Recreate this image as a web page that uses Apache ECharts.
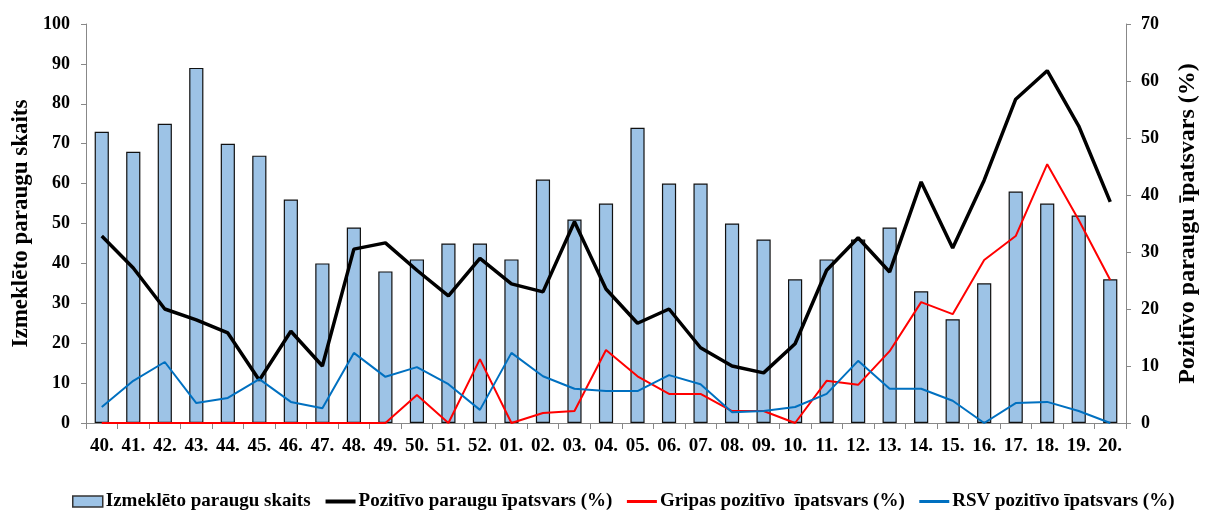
<!DOCTYPE html>
<html><head><meta charset="utf-8">
<script src="https://cdn.jsdelivr.net/npm/echarts@6/dist/echarts.min.js"></script>
<style>html,body{margin:0;padding:0;background:#fff}#c{width:1208px;height:512px}</style>
</head><body><div id="c"></div>
<script>
const weeks = ['40.','41.','42.','43.','44.','45.','46.','47.','48.','49.','50.','51.','52.','01.','02.','03.','04.','05.','06.','07.','08.','09.','10.','11.','12.','13.','14.','15.','16.','17.','18.','19.','20.'];
const samples = [73,68,75,89,70,67,56,40,49,38,41,45,45,41,61,51,55,74,60,60,50,46,36,41,46,49,33,26,35,58,55,52,36];
const positive = [32.8,27.2,20.0,18.1,15.8,7.5,16.1,10.0,30.5,31.6,26.8,22.3,28.9,24.4,23.0,35.3,23.5,17.5,20.0,13.2,10.0,8.8,13.9,26.8,32.5,26.5,42.3,30.7,42.6,56.8,61.8,52.1,38.8];
const flu = [0,0,0,0,0,0,0,0,0,0,4.9,0,11.2,0,1.75,2.1,12.8,8.2,5.1,5.1,2.1,2.1,0,7.4,6.7,12.6,21.2,19.1,28.6,32.8,45.4,35.6,25.1];
const rsv = [2.8,7.4,10.7,3.5,4.4,7.7,3.7,2.6,12.3,8.1,9.8,6.8,2.3,12.3,8.2,6.0,5.6,5.6,8.4,6.8,1.9,2.1,2.8,5.1,10.9,6.0,6.0,3.9,0,3.5,3.7,2.1,0];
const leftTicks = [0,100,10];
const rightTicks = [0,70,10];

const font = '"Liberation Serif","Times New Roman",serif';
const chart = echarts.init(document.getElementById('c'));
const hideSym = {opacity:0};
chart.setOption({
  animation:false,
  textStyle:{fontFamily:font},
  grid:{left:86,right:79,top:24,bottom:89,containLabel:false},
  legend:{
    top:487,left:67,itemGap:13,itemWidth:30,itemHeight:11,padding:[5,5,5,5],
    textStyle:{fontFamily:font,fontWeight:'bold',fontSize:19,color:'#000',padding:[0,0,0,-2]},
    data:[
      {name:'Izmeklēto paraugu skaits',icon:'rect',itemStyle:{borderColor:'#333',borderWidth:1.5}},
      {name:'Pozitīvo paraugu īpatsvars (%)',itemStyle:hideSym,lineStyle:{width:4}},
      {name:'Gripas pozitīvo  īpatsvars (%)',itemStyle:hideSym,lineStyle:{width:3}},
      {name:'RSV pozitīvo īpatsvars (%)',itemStyle:hideSym,lineStyle:{width:3}}
    ]
  },
  xAxis:{
    type:'category',data:weeks,boundaryGap:true,
    axisLine:{lineStyle:{color:'#888'}},
    axisTick:{show:true,length:6,lineStyle:{color:'#888'},alignWithLabel:false},
    axisLabel:{color:'#000',fontWeight:'bold',fontSize:19,fontFamily:font,margin:14,interval:0}
  },
  yAxis:[
    {type:'value',min:leftTicks[0],max:leftTicks[1],interval:leftTicks[2],
     name:'Izmeklēto paraugu skaits',nameLocation:'middle',nameGap:52,nameRotate:90,
     nameTextStyle:{fontFamily:font,fontWeight:'bold',fontSize:23,color:'#000'},
     axisLine:{show:true,lineStyle:{color:'#888'}},axisTick:{show:true,length:5,lineStyle:{color:'#888'}},
     splitLine:{show:false},
     axisLabel:{color:'#000',fontWeight:'bold',fontSize:18,fontFamily:font,margin:16}},
    {type:'value',min:rightTicks[0],max:rightTicks[1],interval:rightTicks[2],position:'right',
     name:'Pozitīvo paraugu īpatsvars (%)',nameLocation:'middle',nameGap:50,nameRotate:90,
     nameTextStyle:{fontFamily:font,fontWeight:'bold',fontSize:24,color:'#000'},
     axisLine:{show:true,lineStyle:{color:'#888'}},axisTick:{show:true,length:5,lineStyle:{color:'#888'}},
     splitLine:{show:false},
     axisLabel:{color:'#000',fontWeight:'bold',fontSize:18,fontFamily:font,margin:15}}
  ],
  series:[
    {name:'Izmeklēto paraugu skaits',type:'bar',data:samples,barWidth:'45%',
     itemStyle:{color:'#9DC3E6',borderColor:'#111',borderWidth:1.2}},
    {name:'Pozitīvo paraugu īpatsvars (%)',type:'line',yAxisIndex:1,data:positive,symbol:'none',
     lineStyle:{color:'#000',width:3.5},itemStyle:{color:'#000'}},
    {name:'Gripas pozitīvo  īpatsvars (%)',type:'line',yAxisIndex:1,data:flu,symbol:'none',
     lineStyle:{color:'#FF0000',width:2},itemStyle:{color:'#FF0000'}},
    {name:'RSV pozitīvo īpatsvars (%)',type:'line',yAxisIndex:1,data:rsv,symbol:'none',
     lineStyle:{color:'#0070C0',width:2},itemStyle:{color:'#0070C0'}}
  ]
});
</script></body></html>
